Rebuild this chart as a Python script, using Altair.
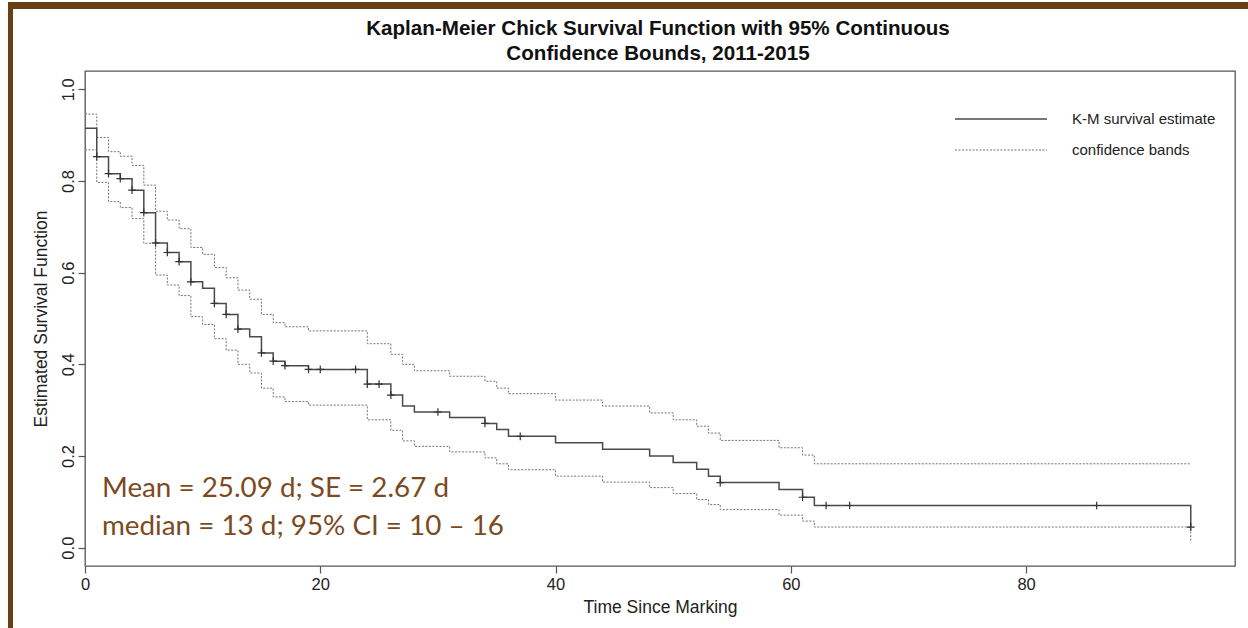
import altair as alt
import pandas as pd

TITLE_LINES = ["Kaplan-Meier Chick Survival Function with 95% Continuous",
               "Confidence Bounds, 2011-2015"]
X_TITLE = "Time Since Marking"
Y_TITLE = "Estimated Survival Function"
X_TICKS = [0, 20, 40, 60, 80]
Y_TICKS = [0.0, 0.2, 0.4, 0.6, 0.8, 1.0]
LEGEND_LABELS = ["K-M survival estimate", "confidence bands"]
NOTE_LINES = ["Mean = 25.09 d; SE = 2.67 d", "median = 13 d; 95% CI = 10 \u2013 16"]

# step times (days) and values
TIMES = [0, 1, 2, 3, 4, 5, 6, 7, 8, 9, 10, 11, 12, 13, 14, 15, 16, 17, 19, 24, 26, 27,
         28, 31, 34, 35, 36, 40, 44, 48, 50, 52, 53, 54, 59, 61, 62, 94]
SURV = [0.915, 0.853, 0.816, 0.805, 0.780, 0.731, 0.665, 0.644, 0.624, 0.580, 0.566,
        0.533, 0.509, 0.477, 0.460, 0.425, 0.407, 0.397, 0.389, 0.357, 0.333, 0.309,
        0.296, 0.284, 0.271, 0.258, 0.243, 0.229, 0.215, 0.200, 0.186, 0.171, 0.156,
        0.142, 0.127, 0.110, 0.092, 0.045]
UPPER = [0.946, 0.895, 0.864, 0.854, 0.834, 0.791, 0.734, 0.715, 0.696, 0.655, 0.640,
         0.611, 0.589, 0.562, 0.542, 0.509, 0.491, 0.482, 0.473, 0.445, 0.422, 0.400,
         0.386, 0.374, 0.363, 0.348, 0.336, 0.322, 0.309, 0.294, 0.279, 0.265, 0.250,
         0.234, 0.218, 0.202, 0.183, 0.183]
LOWER = [0.868, 0.797, 0.755, 0.742, 0.718, 0.664, 0.595, 0.573, 0.550, 0.504, 0.487,
         0.456, 0.431, 0.400, 0.381, 0.348, 0.329, 0.319, 0.311, 0.279, 0.256, 0.233,
         0.221, 0.209, 0.196, 0.183, 0.170, 0.156, 0.143, 0.131, 0.118, 0.105, 0.094,
         0.083, 0.071, 0.058, 0.045, 0.012]
CENSOR_TIMES = [1, 2, 3, 4, 5, 6, 7, 8, 9, 11, 12, 13, 15, 16, 17, 19, 20, 23, 24, 25,
                26, 30, 34, 37, 54, 61, 63, 65, 86, 94]

X_MAX = 94 * 1.04


def step_value(t):
    val = SURV[0]
    for ti, si in zip(TIMES, SURV):
        if ti <= t:
            val = si
    return val


km_df = pd.DataFrame({"t": TIMES, "s": SURV})
band_df = pd.concat([
    pd.DataFrame({"t": TIMES, "s": UPPER, "bound": "upper"}),
    pd.DataFrame({"t": TIMES, "s": LOWER, "bound": "lower"}),
])
censor_df = pd.DataFrame({"t": CENSOR_TIMES, "s": [step_value(c) for c in CENSOR_TIMES]})

FONT = "Liberation Sans"
xscale = alt.Scale(domain=[0, X_MAX], nice=False, zero=False)
yscale = alt.Scale(domain=[-0.04, 1.04], nice=False, zero=False)

xaxis = alt.Axis(values=X_TICKS, format="d", domain=False, grid=False, tickSize=7,
                 tickColor="#555555", tickWidth=1.2, labelFont=FONT, labelFontSize=16.5,
                 labelColor="#222222", labelPadding=3, labelFlush=False,
                 titleFont=FONT, titleFontSize=17.5, titleFontWeight="normal",
                 titleColor="#222222", titlePadding=6)
yaxis = alt.Axis(values=Y_TICKS, format=".1f", domain=False, grid=False, tickSize=7,
                 tickColor="#555555", tickWidth=1.2, labelFont=FONT, labelFontSize=16.5,
                 labelColor="#222222", labelPadding=5, labelAngle=270,
                 labelAlign="center", labelBaseline="alphabetic", labelFlush=False,
                 titleFont=FONT, titleFontSize=17.5, titleFontWeight="normal",
                 titleColor="#222222", titlePadding=10)


def one_row(**cols):
    return pd.DataFrame({k: [v] for k, v in cols.items()})


bands = alt.Chart(band_df).mark_line(
    interpolate="step-after", color="#747474", strokeWidth=1, strokeDash=[2, 1.5]
).encode(
    x=alt.X("t:Q", scale=xscale, axis=xaxis, title=X_TITLE),
    y=alt.Y("s:Q", scale=yscale, axis=yaxis, title=Y_TITLE),
    detail="bound:N",
)

km = alt.Chart(km_df).mark_line(
    interpolate="step-after", color="#4a4a4a", strokeWidth=1.5
).encode(x=alt.X("t:Q", scale=xscale), y=alt.Y("s:Q", scale=yscale))

censor = alt.Chart(censor_df).mark_point(
    shape="M0,-1L0,1M-1,0L1,0", size=60, filled=False, color="#333333", strokeWidth=1.2,
    opacity=1
).encode(x=alt.X("t:Q", scale=xscale), y=alt.Y("s:Q", scale=yscale))

leg_solid = alt.Chart(one_row(k=0)).mark_rule(
    color="#4a4a4a", strokeWidth=1.5
).encode(x=alt.value(870), x2=alt.value(962), y=alt.value(48))
leg_dash = alt.Chart(one_row(k=0)).mark_rule(
    color="#747474", strokeWidth=1, strokeDash=[2, 1.5]
).encode(x=alt.value(870), x2=alt.value(962), y=alt.value(79))
leg_t1 = alt.Chart(one_row(label=LEGEND_LABELS[0])).mark_text(
    font=FONT, fontSize=15, color="#222222", align="left", baseline="middle"
).encode(x=alt.value(987), y=alt.value(48), text="label:N")
leg_t2 = alt.Chart(one_row(label=LEGEND_LABELS[1])).mark_text(
    font=FONT, fontSize=15, color="#222222", align="left", baseline="middle"
).encode(x=alt.value(987), y=alt.value(79), text="label:N")

note1 = alt.Chart(one_row(label=NOTE_LINES[0])).mark_text(
    font="Lato", fontSize=27.8, color="#7b4a22", align="left", baseline="alphabetic"
).encode(x=alt.value(17), y=alt.value(426), text="label:N")
note2 = alt.Chart(one_row(label=NOTE_LINES[1])).mark_text(
    font="Lato", fontSize=27.8, color="#7b4a22", align="left", baseline="alphabetic"
).encode(x=alt.value(17), y=alt.value(464), text="label:N")

title1 = alt.Chart(one_row(label=TITLE_LINES[0])).mark_text(
    font=FONT, fontSize=20.6, fontWeight="bold", color="#111111", align="center",
    baseline="middle"
).encode(x=alt.value(573), y=alt.value(-42), text="label:N")
title2 = alt.Chart(one_row(label=TITLE_LINES[1])).mark_text(
    font=FONT, fontSize=20.6, fontWeight="bold", color="#111111", align="center",
    baseline="middle"
).encode(x=alt.value(573), y=alt.value(-17), text="label:N")

brown_left = alt.Chart(one_row(k=0)).mark_rect(color="#6b3d14").encode(
    x=alt.value(-77), x2=alt.value(-72), y=alt.value(-69), y2=alt.value(557))
brown_top = alt.Chart(one_row(k=0)).mark_rect(color="#6b3d14").encode(
    x=alt.value(-77), x2=alt.value(1163), y=alt.value(-69), y2=alt.value(-62))

chart = alt.layer(
    bands, km, censor, leg_solid, leg_dash, leg_t1, leg_t2, note1, note2,
    title1, title2, brown_left, brown_top
).properties(
    width=1150, height=495,
    padding={"left": 85, "top": 71, "right": 13, "bottom": 62},
    autosize=alt.AutoSizeParams(type="none"),
    background="white",
).configure_view(stroke="#555555", strokeWidth=1.3)

chart.save("out.html", embed_options={"renderer": "svg", "actions": False})
